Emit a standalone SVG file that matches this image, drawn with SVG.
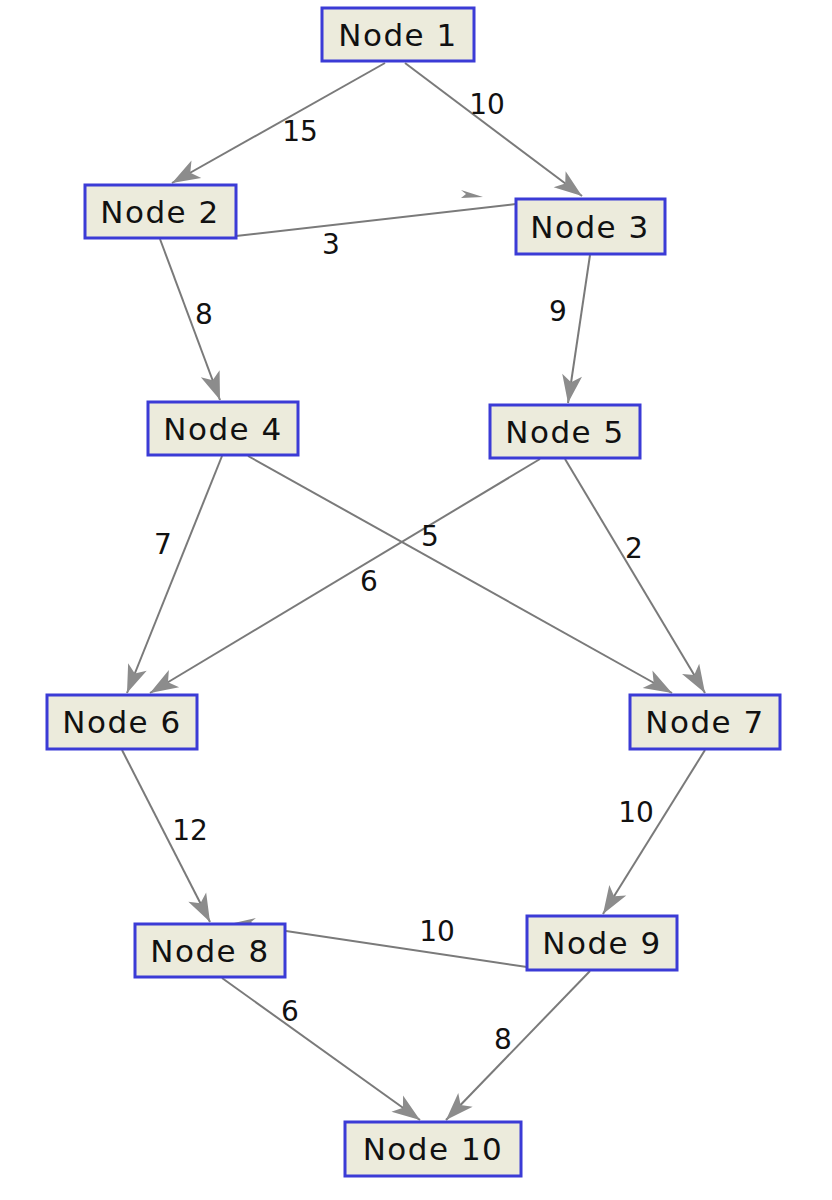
<svg xmlns="http://www.w3.org/2000/svg" width="832" height="1200" viewBox="0 0 832 1200">
<defs>
<style>
.node rect{fill:#ECEBDC;stroke:#3B3BD6;stroke-width:3}
.node text{font-family:"DejaVu Sans",sans-serif;font-size:31px;letter-spacing:1.5px;fill:#111;text-anchor:middle}
.edge line{stroke:#7a7a7a;stroke-width:2;marker-end:url(#arr)}
.lbl{font-family:"DejaVu Sans",sans-serif;font-size:28px;fill:#111;text-anchor:middle}
.tiny{fill:#8a8a8a}
</style>
<marker id="arr" markerUnits="userSpaceOnUse" markerWidth="34" markerHeight="24" refX="30" refY="12" orient="auto">
<path d="M30,12 L2,2 L9,12 L2,22 Z" fill="#8c8c8c"/>
</marker>
</defs>
<rect width="832" height="1200" fill="#fff"/>
<g id="connectors" class="edge">
<line x1="385" y1="63" x2="172" y2="183"/>
<line x1="405" y1="63" x2="582" y2="196"/>
<line x1="236" y1="236" x2="516" y2="204" style="marker-end:none"/>
<line x1="160" y1="239" x2="220" y2="400"/>
<line x1="590" y1="255" x2="568" y2="403"/>
<line x1="222" y1="456" x2="127" y2="693"/>
<line x1="248" y1="456" x2="672" y2="693"/>
<line x1="540" y1="459" x2="150" y2="693"/>
<line x1="565" y1="459" x2="705" y2="693"/>
<line x1="122" y1="750" x2="210" y2="922"/>
<line x1="705" y1="750" x2="603" y2="914"/>
<line x1="527" y1="967" x2="286" y2="931" style="marker-end:none"/>
<line x1="222" y1="978" x2="420" y2="1120"/>
<line x1="590" y1="971" x2="446" y2="1120"/>
<polygon class="tiny" points="483,197 461,190 466,194 461,198"/>
<polygon class="tiny" points="234,923 256,918 251,922 256,926"/>
<text class="lbl" x="300" y="141">15</text>
<text class="lbl" x="487" y="114">10</text>
<text class="lbl" x="331" y="254">3</text>
<text class="lbl" x="204" y="324">8</text>
<text class="lbl" x="558" y="321">9</text>
<text class="lbl" x="163" y="554">7</text>
<text class="lbl" x="430" y="546">5</text>
<text class="lbl" x="369" y="591">6</text>
<text class="lbl" x="634" y="558">2</text>
<text class="lbl" x="190" y="840">12</text>
<text class="lbl" x="636" y="822">10</text>
<text class="lbl" x="437" y="941">10</text>
<text class="lbl" x="290" y="1021">6</text>
<text class="lbl" x="503" y="1049">8</text>
</g>
<g id="node1" class="node"><rect x="322" y="8" width="152" height="53"/><text x="398" y="46">Node 1</text></g>
<g id="node2" class="node"><rect x="85" y="185" width="151" height="53"/><text x="160" y="223">Node 2</text></g>
<g id="node3" class="node"><rect x="516" y="199" width="149" height="55"/><text x="590" y="238">Node 3</text></g>
<g id="node4" class="node"><rect x="148" y="402" width="150" height="53"/><text x="223" y="440">Node 4</text></g>
<g id="node5" class="node"><rect x="490" y="405" width="150" height="53"/><text x="565" y="443">Node 5</text></g>
<g id="node6" class="node"><rect x="47" y="695" width="150" height="54"/><text x="122" y="733">Node 6</text></g>
<g id="node7" class="node"><rect x="630" y="695" width="150" height="54"/><text x="705" y="733">Node 7</text></g>
<g id="node8" class="node"><rect x="135" y="924" width="150" height="53"/><text x="210" y="962">Node 8</text></g>
<g id="node9" class="node"><rect x="527" y="916" width="150" height="54"/><text x="602" y="954">Node 9</text></g>
<g id="node10" class="node"><rect x="345" y="1122" width="176" height="54"/><text x="433" y="1160">Node 10</text></g>
</svg>
